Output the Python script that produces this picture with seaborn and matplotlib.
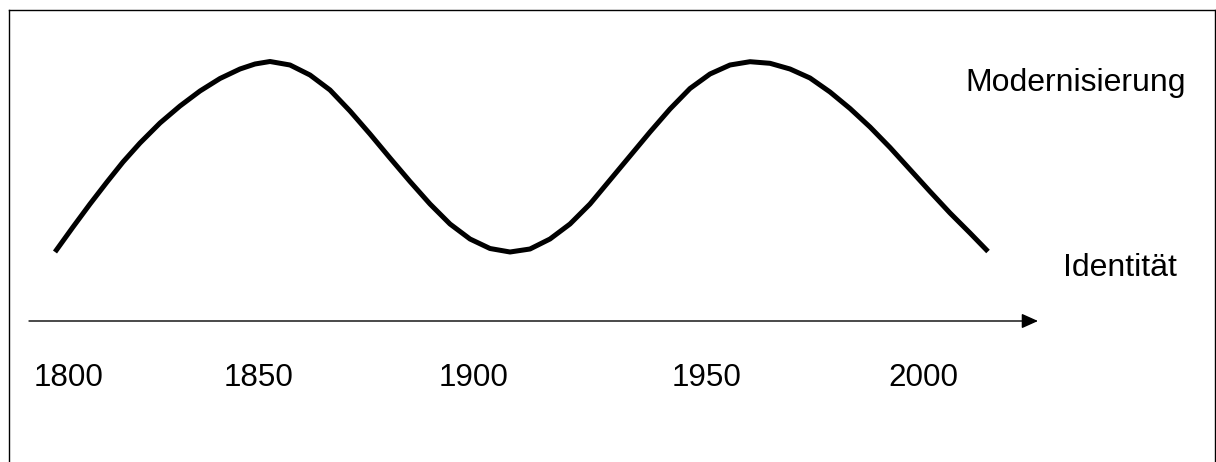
import matplotlib
matplotlib.use("Agg")
import pandas as pd
import seaborn as sns
import matplotlib.pyplot as plt

# curve: x in pixels, y = pixel row (top = 0)
curve_x = [55, 73, 90, 107, 123, 140, 160, 180, 200, 220, 240, 255, 270,
           290, 310, 330, 350, 370, 390, 410, 430, 450, 470, 490, 510,
           530, 550, 570, 590, 610, 630, 650, 670, 690, 710, 730, 750,
           770, 790, 810, 830, 850, 870, 890, 910, 930, 950, 970, 988]
curve_y = [252, 227, 204, 182, 162, 143, 123, 106, 91, 78.5, 69, 64, 61.5,
           65, 75, 90, 111, 134, 158, 181.5, 204, 224, 239, 248.5, 252,
           249, 239, 224, 204, 180, 156, 132, 109, 88.5, 74, 65, 61.7,
           63.3, 69, 78, 92, 108.5, 127, 147.5, 169.5, 191.5, 213, 233, 251.5]

year_labels = ["1800", "1850", "1900", "1950", "2000"]
series_labels = ["Modernisierung", "Identität"]

AXIS_Y = 321  # pixel row of the time arrow


def main():
    sns.set_style("white")
    plt.rcParams['font.family'] = ['Liberation Sans', 'DejaVu Sans']
    plt.rcParams['text.color'] = 'black'

    fig = plt.figure(figsize=(12.16, 4.62), dpi=100)
    # frame: left/top/right border of the drawing, open at the bottom
    ax = fig.add_axes([9 / 1216, 0, (1215 - 9) / 1216, (462 - 10) / 462])
    ax.set_xlim(9, 1215)
    ax.set_ylim(AXIS_Y - 462, AXIS_Y - 10)
    ax.set_xticks([])
    ax.set_yticks([])
    for side in ["left", "top", "right"]:
        ax.spines[side].set_color("black")
        ax.spines[side].set_linewidth(1.0)
    ax.spines["bottom"].set_visible(False)

    df = pd.DataFrame({"x": curve_x, "y": [AXIS_Y - v for v in curve_y]})
    sns.lineplot(data=df, x="x", y="y", color="black", linewidth=3.6,
                 sort=False, ax=ax, solid_capstyle="butt", solid_joinstyle="round")

    # time arrow
    ax.annotate("", xy=(1038, 0), xytext=(29, 0),
                arrowprops=dict(arrowstyle="-|>,head_length=1.0,head_width=0.45",
                                color="black", lw=1.0, shrinkA=0, shrinkB=0))

    year_x = [69, 259, 474, 707, 923]
    for xx, lab in zip(year_x, year_labels):
        ax.text(xx, AXIS_Y - 385.5, lab, ha="center", va="baseline",
                fontsize=22.6, color="black")

    ax.text(965, AXIS_Y - 91.5, series_labels[0], ha="left", va="baseline",
            fontsize=23, color="black")
    ax.text(1063, AXIS_Y - 276, series_labels[1], ha="left", va="baseline",
            fontsize=23, color="black")

    ax.set_xlabel("")
    ax.set_ylabel("")
    fig.savefig("out.png", dpi=100)


if __name__ == "__main__":
    main()
